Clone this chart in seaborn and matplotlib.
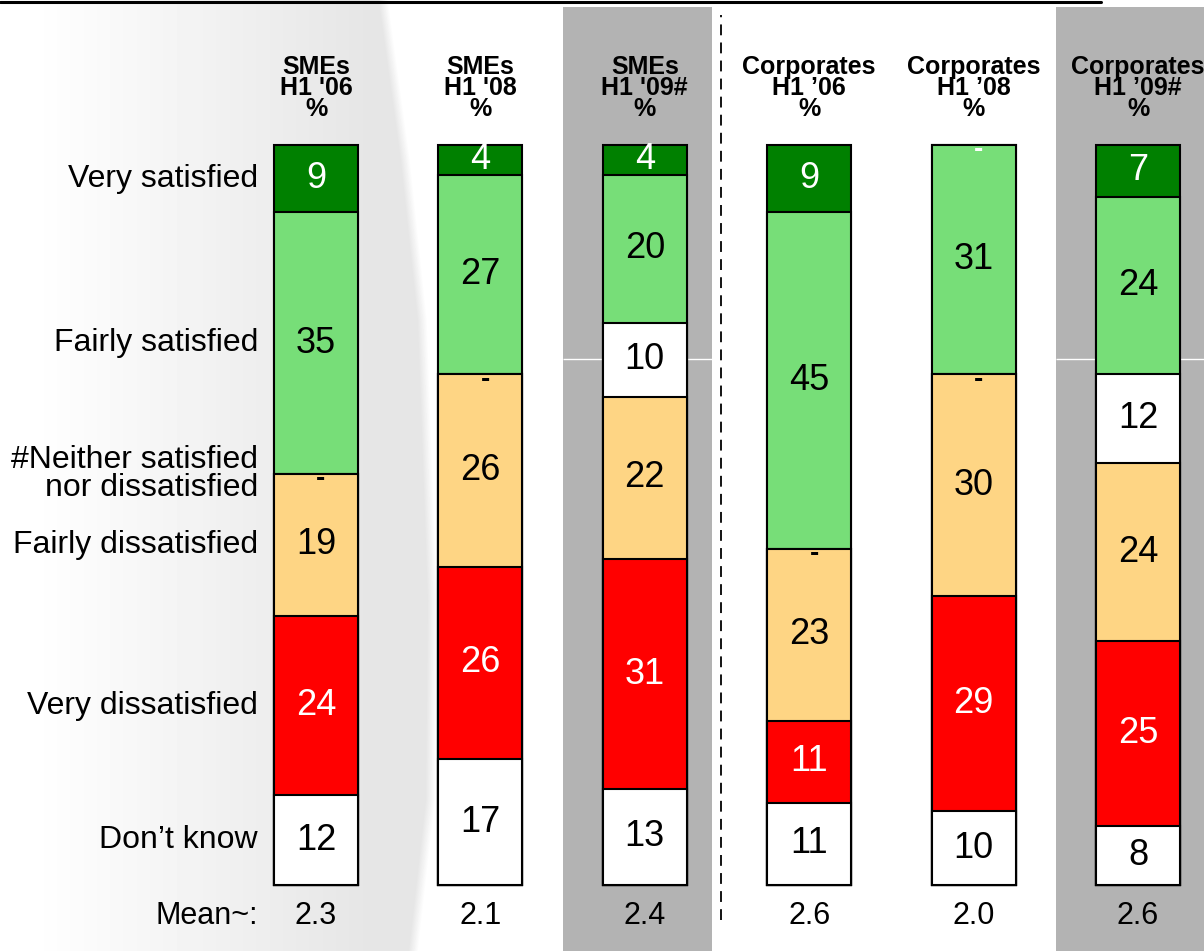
import numpy as np
import pandas as pd
import matplotlib
matplotlib.use("Agg")
import matplotlib.pyplot as plt
from matplotlib.lines import Line2D
import seaborn as sns

# ---- data ----
groups = ["SMEs\nH1 '06\n%", "SMEs\nH1 '08\n%", "SMEs\nH1 '09#\n%",
          "Corporates\nH1 ’06\n%", "Corporates\nH1 ’08\n%", "Corporates\nH1 ’09#\n%"]

# answer categories, stacked from the bottom up
segments = ["Don’t know", "Very dissatisfied", "Fairly dissatisfied",
            "#Neither satisfied\nnor dissatisfied", "Fairly satisfied", "Very satisfied"]

dont_know = [12, 17, 13, 11, 10, 8]
very_dissatisfied = [24, 26, 31, 11, 29, 25]
fairly_dissatisfied = [19, 26, 22, 23, 30, 24]
neither = [0, 0, 10, 0, 0, 12]
fairly_satisfied = [35, 27, 20, 45, 31, 24]
very_satisfied = [9, 4, 4, 9, 0, 7]

means = ["2.3", "2.1", "2.4", "2.6", "2.0", "2.6"]
highlighted = [2, 5]   # H1 '09 columns get the grey panel

seg_colors = ["#ffffff", "#ff0000", "#fed584", "#ffffff", "#77de78", "#008000"]
txt_colors = ["black", "white", "black", "black", "black", "white"]

# ---- layout (pixel based so it lines up with the 1204x951 reference) ----
W_PX, H_PX = 1204, 951
BAR0_PX, STEP_PX = 316, 164.4      # centre of first bar, spacing between bars
ZERO_PX, PX_PER_PCT = 885, 7.40    # y pixel of 0 %, pixels per percent
BAR_W = 84 / STEP_PX

series = [dont_know, very_dissatisfied, fairly_dissatisfied,
          neither, fairly_satisfied, very_satisfied]
rows = []
for gi, g in enumerate(groups):
    total = sum(s[gi] for s in series)
    cum = 0.0
    for si, s in enumerate(segments):
        v = series[si][gi]
        share = v / total * 100   # each bar drawn as 100 % (rounding)
        rows.append({"group": g, "gidx": gi, "segment": s, "sidx": si, "value": v,
                     "bottom": cum, "top": cum + share, "mid": cum + share / 2})
        cum += share
df = pd.DataFrame(rows)

sns.set_style("white")
plt.rcParams["font.family"] = ["Liberation Sans", "DejaVu Sans"]
plt.rcParams["text.color"] = "black"

fig = plt.figure(figsize=(W_PX / 100, H_PX / 100), dpi=100)

# soft grey swoosh behind the left part
r = np.arange(H_PX)[:, None]
c = np.arange(W_PX)[None, :]
edge = np.interp(r, [0, 160, 320, 600, 800, 951], [383, 405, 422, 432, 430, 413])
t = np.clip((c - 30) / 340, 0, 1)
shade = 1 - 0.10 * t
fade = np.clip((edge - c) / 10 + 0.5, 0, 1)
shade = 1 - (1 - shade) * fade
bg = fig.add_axes([0, 0, 1, 1], zorder=0)
bg.imshow(shade, cmap="gray", vmin=0, vmax=1, aspect="auto", interpolation="bilinear")
bg.axis("off")

ax = fig.add_axes([0, 0, 1, 1], zorder=1)
ax.patch.set_alpha(0)

# grey panels for the latest half-year
seam_y = (ZERO_PX - 359) / PX_PER_PCT
for gi in highlighted:
    ax.axvspan(gi - 0.5, gi + 0.41, ymin=0, ymax=1 - 7 / H_PX,
               color="#b3b3b3", lw=0, zorder=0)
    ax.hlines(seam_y, gi - 0.5, gi + 0.6, color="white", lw=1, zorder=0.5)

# stacked bars: overlay cumulative totals, biggest first
for si in reversed(range(len(segments))):
    sub = df[df["sidx"] == si]
    sns.barplot(data=sub, x="group", y="top", order=groups, color=seg_colors[si],
                saturation=1, width=BAR_W, edgecolor="black", linewidth=1.5,
                errorbar=None, ax=ax, zorder=2)

# segment values
for _, row in df.iterrows():
    col = txt_colors[row["sidx"]]
    if row["value"] > 0:
        ax.text(row["gidx"], row["mid"], f"{row['value']:d}", ha="center", va="center",
                fontsize=26, color=col, zorder=3)
    else:
        ax.text(row["gidx"] + 0.03, row["bottom"] - 0.7, "-", ha="center", va="center",
                fontsize=20, fontweight="bold", color=col, zorder=3)

# column headers
for gi, g in enumerate(groups):
    ax.text(gi, (ZERO_PX - 55) / PX_PER_PCT, g, ha="center", va="top",
            fontsize=18, fontweight="bold", linespacing=0.83, zorder=3)

# category labels, aligned with the first bar
label_x = (258 - BAR0_PX) / STEP_PX
first = df[df["gidx"] == 0]
for _, row in first.iterrows():
    ax.text(label_x, row["mid"], row["segment"], ha="right", va="center",
            fontsize=23, linespacing=0.92, zorder=3)

# mean row
mean_y = (ZERO_PX - 916) / PX_PER_PCT
ax.text(label_x, mean_y, "Mean~:", ha="right", va="center", fontsize=22, zorder=3)
for gi, m in enumerate(means):
    ax.text(gi, mean_y, m, ha="center", va="center", fontsize=22, zorder=3)

# separator between SMEs and Corporates
ax.axvline((721 - BAR0_PX) / STEP_PX, ymin=31 / H_PX, ymax=1 - 15 / H_PX,
           color="black", lw=1.3, ls=(0, (6, 4)), zorder=1)

ax.set_xlim(-BAR0_PX / STEP_PX, (W_PX - BAR0_PX) / STEP_PX)
ax.set_ylim((ZERO_PX - H_PX) / PX_PER_PCT, ZERO_PX / PX_PER_PCT)
ax.axis("off")

fig.add_artist(Line2D([0, 1101 / W_PX], [1 - 1.5 / H_PX] * 2, color="black",
                      lw=2.2, transform=fig.transFigure))

fig.savefig("out.png", dpi=100)
